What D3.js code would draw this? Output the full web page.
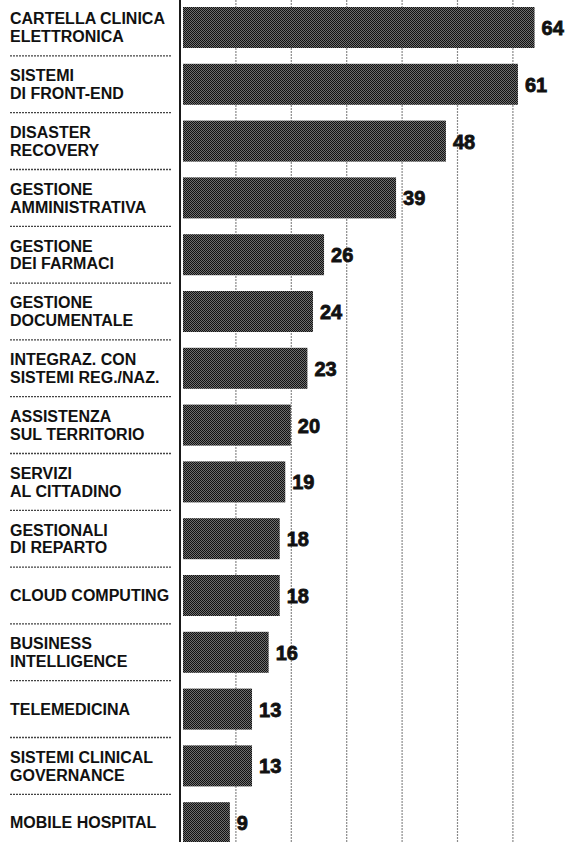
<!DOCTYPE html>
<html>
<head>
<meta charset="utf-8">
<script src="https://cdn.jsdelivr.net/npm/d3@7"></script>
<style>
  body { margin: 0; background: #fff; }
  svg { display: block; }
  .label { font-family: 'Liberation Sans', Arial, sans-serif; font-weight: bold; font-size: 16px; fill: #111; }
  .value { font-family: 'Liberation Sans', Arial, sans-serif; font-weight: bold; font-size: 20px; fill: #111; stroke: #111; stroke-width: 0.8px; }
</style>
</head>
<body>
<div id="container"></div>
<script>
const w = 566,
  h = 842,
  axisX = 180,
  unit = 5.54,
  lineGap = 17.9;

const categories = [
  ['CARTELLA CLINICA', 'ELETTRONICA'],
  ['SISTEMI', 'DI FRONT-END'],
  ['DISASTER', 'RECOVERY'],
  ['GESTIONE', 'AMMINISTRATIVA'],
  ['GESTIONE', 'DEI FARMACI'],
  ['GESTIONE', 'DOCUMENTALE'],
  ['INTEGRAZ. CON', 'SISTEMI REG./NAZ.'],
  ['ASSISTENZA', 'SUL TERRITORIO'],
  ['SERVIZI', 'AL CITTADINO'],
  ['GESTIONALI', 'DI REPARTO'],
  ['CLOUD COMPUTING'],
  ['BUSINESS', 'INTELLIGENCE'],
  ['TELEMEDICINA'],
  ['SISTEMI CLINICAL', 'GOVERNANCE'],
  ['MOBILE HOSPITAL'],
];

const values = [64, 61, 48, 39, 26, 24, 23, 20, 19, 18, 18, 16, 13, 13, 9];

const gridTicks = [10, 20, 30, 40, 50, 60];

const data = categories.map((c, i) => ({ id: i, lines: c, value: values[i] }));

const svg = d3
  .select('#container')
  .append('svg')
  .attr('width', w)
  .attr('height', h);

// halftone fill of the bars
const pat = svg
  .append('defs')
  .append('pattern')
  .attr('id', 'dots')
  .attr('width', 2)
  .attr('height', 2)
  .attr('patternUnits', 'userSpaceOnUse');
pat.append('rect').attr('width', 2).attr('height', 2).attr('fill', '#6e6e6e');
pat.append('rect').attr('width', 1).attr('height', 1).attr('fill', '#111');
pat.append('rect').attr('x', 1).attr('y', 1).attr('width', 1).attr('height', 1).attr('fill', '#111');

const xScale = d3
  .scaleLinear()
  .domain([0, 64])
  .range([axisX, axisX + 64 * unit]);

const yScale = d3
  .scaleBand()
  .domain(data.map((d) => d.id))
  .range([7, 843.2])
  .paddingInner(0.278)
  .paddingOuter(0);

const gap = yScale.step() - yScale.bandwidth();

// vertical dotted grid
const grid = svg
  .append('g')
  .attr('transform', 'translate(0,' + h + ')')
  .call(d3.axisTop(xScale).tickValues(gridTicks).tickSize(h).tickFormat(''));
grid.select('.domain').remove();
grid
  .selectAll('line')
  .attr('stroke', '#8a8a8a')
  .attr('stroke-width', 1.2)
  .attr('stroke-dasharray', '2,1');

// row separators under the labels
svg
  .selectAll('line.sep')
  .data(data.slice(1))
  .enter()
  .append('line')
  .attr('class', 'sep')
  .attr('x1', 10)
  .attr('x2', 172)
  .attr('y1', (d) => yScale(d.id) - gap / 2)
  .attr('y2', (d) => yScale(d.id) - gap / 2)
  .attr('stroke', '#444')
  .attr('stroke-width', 1.3)
  .attr('stroke-dasharray', '2,1');

svg
  .selectAll('rect.bar')
  .data(data)
  .enter()
  .append('rect')
  .attr('class', 'bar')
  .attr('x', xScale(0) + 3)
  .attr('y', (d) => yScale(d.id))
  .attr('width', (d) => xScale(d.value) - xScale(0) - 3)
  .attr('height', yScale.bandwidth())
  .attr('fill', 'url(#dots)');

// vertical axis line
const yAxis = svg
  .append('g')
  .attr('transform', 'translate(' + axisX + ',0)')
  .call(d3.axisLeft(yScale).tickSize(0).tickFormat(''));
yAxis
  .select('.domain')
  .attr('d', 'M0,0V' + h)
  .attr('stroke', '#1a1a1a')
  .attr('stroke-width', 2);

const labels = svg
  .selectAll('text.label')
  .data(data)
  .enter()
  .append('text')
  .attr('class', 'label')
  .attr('x', 10)
  .attr('y', (d) => yScale(d.id) + yScale.bandwidth() / 2 - ((d.lines.length - 1) * lineGap) / 2 + 5.8);

labels
  .selectAll('tspan')
  .data((d) => d.lines)
  .enter()
  .append('tspan')
  .attr('x', 10)
  .attr('dy', (d, i) => (i === 0 ? 0 : lineGap))
  .text((d) => d);

svg
  .selectAll('text.value')
  .data(data)
  .enter()
  .append('text')
  .attr('class', 'value')
  .attr('x', (d) => xScale(d.value) + 7)
  .attr('y', (d) => yScale(d.id) + yScale.bandwidth() / 2 + 7.5)
  .text((d) => d.value);
</script>
</body>
</html>
